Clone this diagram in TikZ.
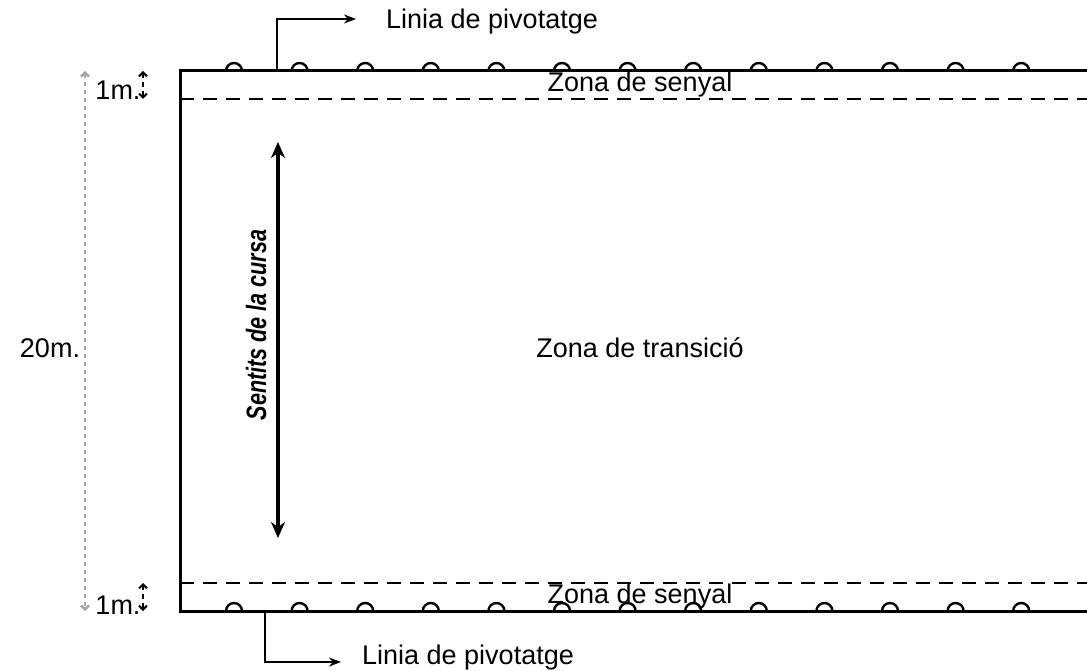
\documentclass[tikz,border=0pt]{standalone}
\usepackage{fontspec}
\setmainfont{Liberation Sans}
\usetikzlibrary{arrows.meta}
\begin{document}
\begin{tikzpicture}[x=1pt,y=1pt,
  lbl/.style={inner sep=0pt,font=\fontsize{27}{30}\selectfont},
  edge/.style={line width=3pt},
  zoneline/.style={line width=2.4pt,dash pattern=on 14pt off 9pt},
  bump/.style={line width=2.4pt},
  pivot/.style={line width=1.8pt,-{Stealth[length=12pt,width=9pt]}},
  course/.style={line width=3.4pt,{Stealth[length=16pt,width=14pt]}-{Stealth[length=16pt,width=14pt]}},
  dimbig/.style={line width=2.4pt,gray!70,dash pattern=on 4pt off 4pt,{Straight Barb[length=4pt,width=8pt]}-{Straight Barb[length=4pt,width=8pt]}},
  dimsmall/.style={line width=2pt,dash pattern=on 5pt off 4pt,{Straight Barb[length=4pt,width=8pt]}-{Straight Barb[length=4pt,width=8pt]}}
]
\useasboundingbox (0,0) rectangle (1087,670);
% field corners
\coordinate (tl) at (180,599);
\coordinate (tr) at (1090,599);
\coordinate (bl) at (180,59);
\coordinate (br) at (1090,59);
\coordinate (dtl) at (180,571);
\coordinate (dtr) at (1090,571);
\coordinate (dbl) at (180,87);
\coordinate (dbr) at (1090,87);
% field outline (right side open, beyond picture)
\draw[edge] (tr) -- (tl) -- (bl) -- (br);
\draw[zoneline] (dtl) -- (dtr);
\draw[zoneline] (dbl) -- (dbr);
% pivot bumps
\foreach \i in {0,...,12}{
  \pgfmathsetmacro{\cx}{234+65.6*\i}
  \draw[bump] (\cx-8,599) arc (180:0:8);
  \draw[bump] (\cx-8,59) arc (180:0:8);
}
% texts
\node[lbl] (zs1) at (640,585) {Zona de senyal};
\node[lbl] (zs2) at (640,73) {Zona de senyal};
\node[lbl] (zt) at (640,322) {Zona de transició};
\node[lbl,anchor=west] (lp1) at (386,648) {Linia de pivotatge};
\node[lbl,anchor=west] (lp2) at (362,12) {Linia de pivotatge};
\node[lbl] (d20) at (50,322) {20m.};
\node[lbl] (d1a) at (118,580) {1m.};
\node[lbl] (d1b) at (118,65) {1m.};
\node[inner sep=0pt,font=\fontsize{28}{30}\selectfont\bfseries\itshape,rotate=90] (sc) at (256,345) {\scalebox{0.77}[1]{Sentits de la cursa}};
% pivot arrows
\coordinate (p1a) at (277,599);
\coordinate (p1b) at (277,651);
\coordinate (p1c) at (356,651);
\draw[pivot] (p1a) -- (p1b) -- (p1c);
\coordinate (p2a) at (265,59);
\coordinate (p2b) at (265,8);
\coordinate (p2c) at (341,8);
\draw[pivot] (p2a) -- (p2b) -- (p2c);
% course arrow
\coordinate (ca) at (278,528);
\coordinate (cb) at (278,132);
\draw[course] (ca) -- (cb);
% dimensions
\coordinate (dA) at (85,599);
\coordinate (dB) at (85,59);
\draw[dimbig] (dA) -- (dB);
\coordinate (s1a) at (143,599);
\coordinate (s1b) at (143,571);
\draw[dimsmall] (s1a) -- (s1b);
\coordinate (s2a) at (143,87);
\coordinate (s2b) at (143,59);
\draw[dimsmall] (s2a) -- (s2b);
\end{tikzpicture}
\end{document}
